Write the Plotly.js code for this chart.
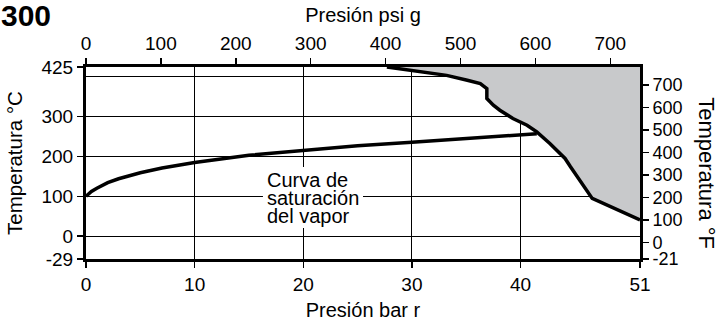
<!DOCTYPE html>
<html>
<head>
<meta charset="utf-8">
<script src="https://cdn.plot.ly/plotly-3.0.1.min.js"></script>
<style>html,body{margin:0;padding:0;background:#fff;}#chart{width:721px;height:321px;}</style>
</head>
<body>
<div id="chart"></div>
<script>
// ---- data (pressure in bar g, temperature in °C) ----
const satBar = [0, 0.5, 1, 2, 3, 4, 5, 7, 10, 15, 20, 25, 30, 35, 40, 41.5];
const satC   = [100, 112, 120, 134, 144, 152, 159, 171, 185, 203, 216, 227, 236, 245, 253, 257];

const limitBar = [27.7, 30.1, 33.2, 35.1, 36.3, 36.9, 36.9, 37.5, 38.1, 39.3, 40.6, 41.5, 42.7, 44.1, 44.6, 46.6, 51];
const limitC   = [425, 416.7, 404, 391.6, 383.3, 370.8, 345.7, 328.9, 316.3, 295.5, 278.6, 261.8, 232.7, 195, 174, 94.6, 40.2];

// ---- axes / ticks ----
const barRange = [0, 51];
const psiRange = [0, 739.7];
const cRange = [-57.8, 425];
const fRange = [-73.3, 780];

const barTicks = [0, 10, 20, 30, 40, 51];
const psiTicks = [0, 100, 200, 300, 400, 500, 600, 700];
const cTickVals = [-57.8, 0, 100, 200, 300, 425];
const cTickText = ['-29', '0', '100', '200', '300', '425'];
const cGrid = [0, 100, 200, 300, 400];
const fTickVals = [-73.3, 0, 100, 200, 300, 400, 500, 600, 700];
const fTickText = ['-21', '0', '100', '200', '300', '400', '500', '600', '700'];

const labelLines = ['Curva de', 'saturación', 'del vapor'];
const labelY = [140.6, 95.4, 50.2];

const FONT = 'Liberation Sans, Arial, Helvetica, sans-serif';

// shaded region: limit curve closed along the top-right corner of the plot
const shadeX = limitBar.concat([barRange[1], limitBar[0]]);
const shadeY = limitC.concat([cRange[1], limitC[0]]);

const helper = (xa, ya, xr, yr) => ({x: xr, y: yr, xaxis: xa, yaxis: ya, type: 'scatter', mode: 'lines',
  line: {width: 0, color: 'rgba(0,0,0,0)'}, hoverinfo: 'skip', showlegend: false});

const traces = [
  helper('x2', 'y', psiRange, [cRange[0], cRange[0]]),
  helper('x', 'y2', [barRange[0], barRange[0]], fRange),
  helper('x', 'y3', [barRange[0], barRange[0]], cRange),
  {x: shadeX, y: shadeY, type: 'scatter', mode: 'lines', fill: 'toself',
   fillcolor: 'rgb(200,201,203)', line: {width: 0, color: 'rgba(0,0,0,0)'}, hoverinfo: 'skip', showlegend: false},
  {x: limitBar, y: limitC, type: 'scatter', mode: 'lines',
   line: {color: '#000', width: 3.5}, showlegend: false},
  {x: satBar, y: satC, type: 'scatter', mode: 'lines',
   line: {color: '#000', width: 3.5}, showlegend: false}
];

const tickCommon = {ticks: 'outside', ticklen: 6, tickwidth: 1.5, tickcolor: '#000',
  showline: true, linewidth: 3, linecolor: '#000', zeroline: false,
  tickfont: {family: FONT, size: 19, color: '#000'}};

const annotations = labelLines.map((t, i) => ({
  text: t, x: 16.29, y: labelY[i], xref: 'x', yref: 'y', xanchor: 'left', yanchor: 'middle',
  showarrow: false, borderpad: 3,
  font: {family: FONT, size: 20, color: '#000'}
}));
annotations.push({
  text: 'Temperatura °F', xref: 'paper', yref: 'paper', x: 1.121, y: 0.447,
  xanchor: 'center', yanchor: 'middle', textangle: 90, showarrow: false,
  font: {family: FONT, size: 22, color: '#000'}
});

const layout = {
  width: 721, height: 321,
  margin: {l: 86, r: 81, t: 67, b: 62, pad: 0},
  paper_bgcolor: '#fff', plot_bgcolor: '#fff',
  font: {family: FONT, color: '#000'},
  showlegend: false,
  title: {text: '<b>300</b>', x: 0, xref: 'container', xanchor: 'left',
          y: 0.985, yref: 'container', yanchor: 'top', pad: {l: 1, t: 0},
          font: {family: FONT, size: 30, color: '#000'}},
  xaxis: Object.assign({}, tickCommon, {
    range: barRange, tickvals: barTicks, showgrid: true, gridcolor: '#000', gridwidth: 1,
    title: {text: 'Presión bar r', font: {family: FONT, size: 20, color: '#000'}, standoff: 11}
  }),
  xaxis2: Object.assign({}, tickCommon, {
    range: psiRange, tickvals: psiTicks, overlaying: 'x', side: 'top', anchor: 'y', showgrid: false,
    title: {text: 'Presión psi g', font: {family: FONT, size: 20, color: '#000'}, standoff: 6}
  }),
  yaxis: Object.assign({}, tickCommon, {
    range: cRange, tickvals: cTickVals, ticktext: cTickText, showgrid: false,
    title: {text: 'Temperatura °C', font: {family: FONT, size: 20.5, color: '#000'}, standoff: 14}
  }),
  yaxis2: Object.assign({}, tickCommon, {
    range: fRange, tickvals: fTickVals, ticktext: fTickText, overlaying: 'y', side: 'right', anchor: 'x', showgrid: false,
    tickfont: {family: FONT, size: 18, color: '#000'}
  }),
  yaxis3: {range: cRange, tickvals: cGrid, overlaying: 'y', anchor: 'x', side: 'left',
    showgrid: true, gridcolor: '#000', gridwidth: 1, showticklabels: false, ticks: '', showline: false, zeroline: false},
  shapes: [
    {type: 'rect', xref: 'x', yref: 'y', x0: 16.29, x1: 25.5, y0: 20.1, y1: 173.5,
     fillcolor: '#fff', line: {width: 0}, layer: 'above'}
  ],
  annotations: annotations
};

Plotly.newPlot('chart', traces, layout, {staticPlot: true, displayModeBar: false});
</script>
</body>
</html>
